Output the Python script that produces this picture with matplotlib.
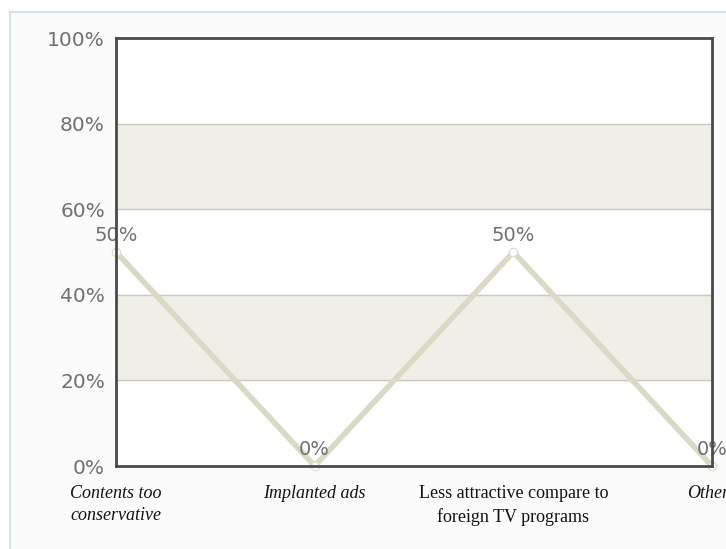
import matplotlib

matplotlib.use("Agg")

import matplotlib.pyplot as plt
from matplotlib.patches import Rectangle

CATEGORIES = [
    "Contents too\nconservative",
    "Implanted ads",
    "Less attractive compare to\nforeign TV programs",
    "Others",
]
CATEGORY_ITALIC = [True, True, False, True]
VALUES = [50, 0, 50, 0]
Y_TICKS = [0, 20, 40, 60, 80, 100]

fig = plt.figure(figsize=(7.26, 5.49), dpi=100)
fig.patch.set_facecolor("white")
# outer panel with a thin light-blue frame
fig.patches.append(
    Rectangle((10 / 726, -0.01), 1.0, 1 - 12 / 549 + 0.01, transform=fig.transFigure,
              facecolor="#fbfbfb", edgecolor="#c9e0e8", linewidth=1.2, zorder=-10)
)

ax = fig.add_axes([116 / 726, 1 - 466 / 549, (712 - 116) / 726, (466 - 38) / 549])
ax.set_facecolor("white")
x = list(range(len(CATEGORIES)))
ax.set_xlim(0, len(CATEGORIES) - 1)
ax.set_ylim(0, 100)

# alternating bands
for lo, hi in [(20, 40), (60, 80)]:
    ax.axhspan(lo, hi, color="#efefe8", zorder=0)
for t in Y_TICKS[1:-1]:
    ax.axhline(t, color="#c9c9bb", linewidth=1.0, zorder=1)

ax.plot(x, VALUES, color="#d9d9c6", linewidth=4, solid_capstyle="round",
        zorder=3, clip_on=False)
ax.plot(x, VALUES, linestyle="none", marker="o", markersize=6,
        markerfacecolor="white", markeredgecolor="#e0e0d2", markeredgewidth=1,
        zorder=4, clip_on=False)

for xi, v in zip(x, VALUES):
    ax.annotate(f"{v}%", (xi, v), xytext=(0, 5), textcoords="offset points",
                ha="center", va="bottom", fontsize=14, color="#707070",
                family="DejaVu Sans", zorder=5, annotation_clip=False)

ax.set_yticks(Y_TICKS)
ax.set_yticklabels([f"{t}%" for t in Y_TICKS], fontsize=14.5, color="#707070")
ax.tick_params(axis="y", length=0, pad=8)
ax.set_xticks([])

for spine in ax.spines.values():
    spine.set_color("#4a4a4a")
    spine.set_linewidth(2.0)
    spine.set_zorder(6)

for xi, label, italic in zip(x, CATEGORIES, CATEGORY_ITALIC):
    ax.text(xi, -4.5, label, ha="center", va="top", fontsize=13,
            family="Liberation Serif", style="italic" if italic else "normal",
            color="#111111", transform=ax.transData, clip_on=False,
            linespacing=1.4)

fig.savefig("out.png", dpi=100, facecolor=fig.get_facecolor())
